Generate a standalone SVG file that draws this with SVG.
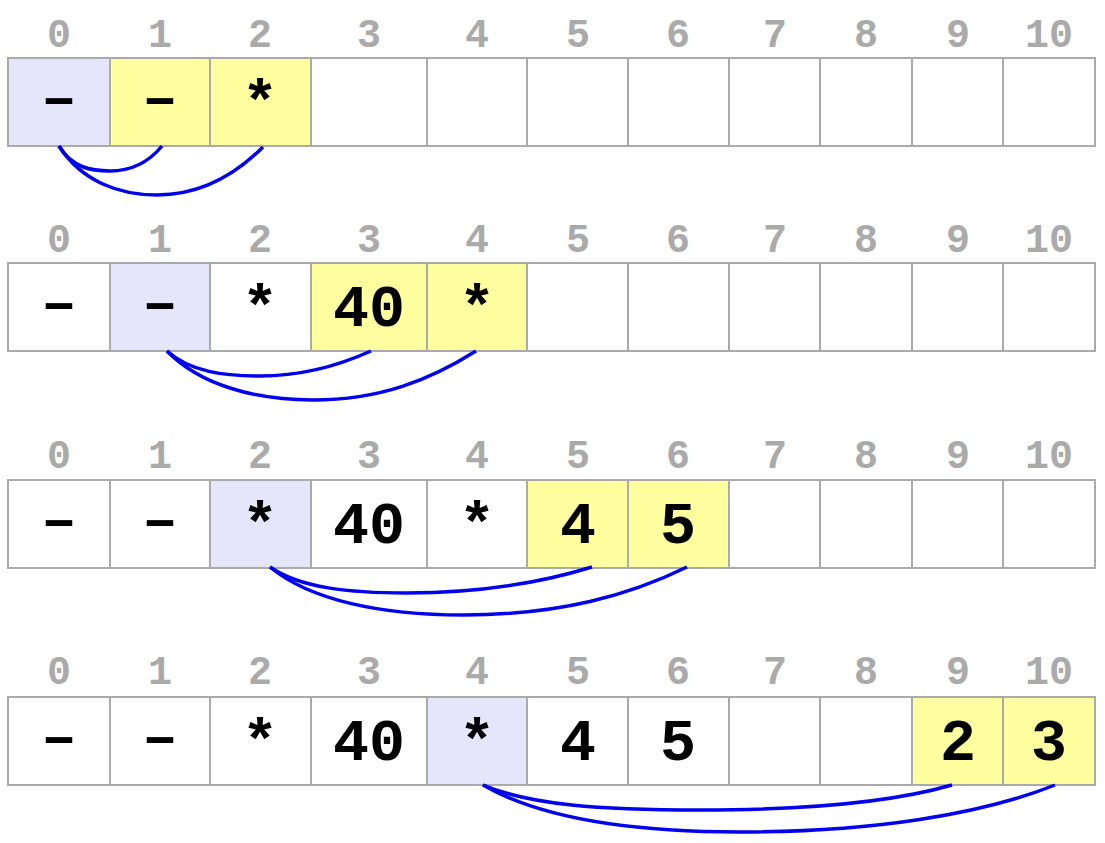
<svg xmlns="http://www.w3.org/2000/svg" width="1105" height="843" viewBox="0 0 1105 843">
<style>
.c{stroke:#aaaaaa;stroke-width:2;fill:#ffffff}
.b{fill:#e6e6fa}
.y{fill:#ffffa0}
.i{font-family:"Liberation Mono",monospace;font-weight:bold;font-size:40px;fill:#aaaaaa;text-anchor:middle}
.t{font-family:"Liberation Mono",monospace;font-weight:bold;font-size:60px;fill:#000000;text-anchor:middle}
.a{fill:none;stroke:#0000ee;stroke-width:3.5}
</style>
<defs>
<g id="idx">
<text class="i" x="59" y="0">0</text><text class="i" x="160" y="0">1</text><text class="i" x="260" y="0">2</text><text class="i" x="369" y="0">3</text><text class="i" x="477" y="0">4</text><text class="i" x="578" y="0">5</text><text class="i" x="678" y="0">6</text><text class="i" x="775" y="0">7</text><text class="i" x="866" y="0">8</text><text class="i" x="958" y="0">9</text><text class="i" x="1049" y="0">10</text>
</g>
<g id="cells">
<rect class="c" x="8" y="0" width="102" height="88"/><rect class="c" x="110" y="0" width="100" height="88"/><rect class="c" x="210" y="0" width="101" height="88"/><rect class="c" x="311" y="0" width="116" height="88"/><rect class="c" x="427" y="0" width="100" height="88"/><rect class="c" x="527" y="0" width="101" height="88"/><rect class="c" x="628" y="0" width="101" height="88"/><rect class="c" x="729" y="0" width="91" height="88"/><rect class="c" x="820" y="0" width="92" height="88"/><rect class="c" x="912" y="0" width="91" height="88"/><rect class="c" x="1003" y="0" width="92" height="88"/>
</g>
</defs>

<g id="row1">
<use href="#idx" y="47"/>
<use href="#cells" y="58"/>
<rect class="c b" x="8" y="58" width="102" height="88"/>
<rect class="c y" x="110" y="58" width="100" height="88"/>
<rect class="c y" x="210" y="58" width="101" height="88"/>
<text class="t" x="59" y="116">–</text>
<text class="t" x="160" y="116">–</text>
<text class="t" x="260" y="121">*</text>
</g>

<g id="row2">
<use href="#idx" y="252"/>
<use href="#cells" y="263"/>
<rect class="c b" x="110" y="263" width="100" height="88"/>
<rect class="c y" x="311" y="263" width="116" height="88"/>
<rect class="c y" x="427" y="263" width="100" height="88"/>
<text class="t" x="59" y="321">–</text>
<text class="t" x="160" y="321">–</text>
<text class="t" x="260" y="326">*</text>
<text class="t" x="369" y="326">40</text>
<text class="t" x="477" y="326">*</text>
</g>

<g id="row3">
<use href="#idx" y="468"/>
<use href="#cells" y="480"/>
<rect class="c b" x="210" y="480" width="101" height="88"/>
<rect class="c y" x="527" y="480" width="101" height="88"/>
<rect class="c y" x="628" y="480" width="101" height="88"/>
<text class="t" x="59" y="538">–</text>
<text class="t" x="160" y="538">–</text>
<text class="t" x="260" y="543">*</text>
<text class="t" x="369" y="543">40</text>
<text class="t" x="477" y="543">*</text>
<text class="t" x="578" y="543">4</text>
<text class="t" x="678" y="543">5</text>
</g>

<g id="row4">
<use href="#idx" y="684"/>
<use href="#cells" y="697"/>
<rect class="c b" x="427" y="697" width="100" height="88"/>
<rect class="c y" x="912" y="697" width="91" height="88"/>
<rect class="c y" x="1003" y="697" width="92" height="88"/>
<text class="t" x="59" y="755">–</text>
<text class="t" x="160" y="755">–</text>
<text class="t" x="260" y="760">*</text>
<text class="t" x="369" y="760">40</text>
<text class="t" x="477" y="760">*</text>
<text class="t" x="578" y="760">4</text>
<text class="t" x="678" y="760">5</text>
<text class="t" x="958" y="760">2</text>
<text class="t" x="1049" y="760">3</text>
</g>

<g id="connectors">
<path class="a" d="M59 146 C72 168 92 171 110 171 C130 171 148 163 162 146"/>
<path class="a" d="M59 146 C82 182 120 195 157 195 C200 195 235 175 263 147"/>
<path class="a" d="M167 351 C190 372 225 376 260 376 C305 376 340 365 371 351"/>
<path class="a" d="M167 351 C200 385 255 400 313 400 C380 400 430 380 476 351"/>
<path class="a" d="M270 567 C300 588 350 593 407 593 C480 593 540 583 592 567"/>
<path class="a" d="M270 567 C310 600 380 615 463 615 C560 615 630 595 687 567"/>
<path class="a" d="M483 785 C530 805 600 810 700 810 C820 810 900 800 952 785"/>
<path class="a" d="M483 785 C540 818 630 832 740 832 C870 832 980 815 1055 785"/>
</g>
</svg>
